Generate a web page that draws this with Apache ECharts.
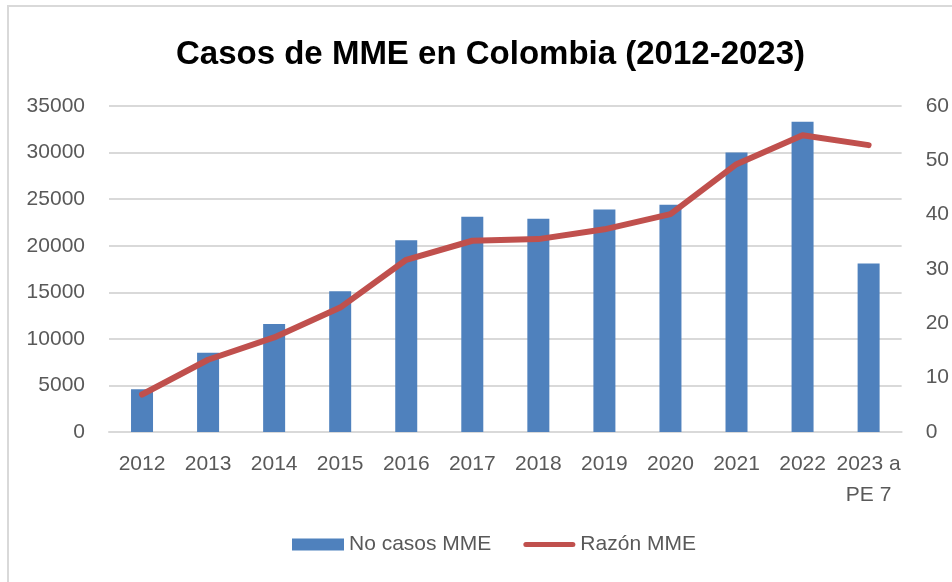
<!DOCTYPE html>
<html>
<head>
<meta charset="utf-8">
<title>Casos de MME en Colombia (2012-2023)</title>
<script src="https://cdn.jsdelivr.net/npm/echarts@6/dist/echarts.min.js"></script>
<style>
  html, body { margin: 0; padding: 0; background: #ffffff; }
  #chart { width: 952px; height: 582px; }
</style>
</head>
<body>
<div id="chart"></div>
<script>
// Categories (years; last one is partial up to epidemiological period 7)
var years = ['2012', '2013', '2014', '2015', '2016', '2017', '2018', '2019', '2020', '2021', '2022', '2023 a\nPE 7'];
// Number of extreme maternal morbidity cases (left axis)
var casosMME = [4600, 8500, 11600, 15100, 20600, 23100, 22900, 23900, 24400, 30000, 33300, 18100];
// MME ratio (right axis)
var razonMME = [6.9, 13.3, 17.4, 22.9, 31.7, 35.2, 35.5, 37.3, 40.1, 49.3, 54.6, 52.8];
// Axis ranges
var leftAxisMax = 35000, leftAxisStep = 5000;
var rightAxisMax = 60, rightAxisStep = 10;

var FONT = '"Liberation Sans", Arial, sans-serif';
var GREY = '#595959';

// Thick line swatch for the ratio legend entry (invisible moves keep a 52x12 box)
var lineIcon = 'path://M0,0 M52,12 M2.5,3.5 L49.5,3.5 A2.5,2.5 0 0 1 49.5,8.5 L2.5,8.5 A2.5,2.5 0 0 1 2.5,3.5 Z';

var chart = echarts.init(document.getElementById('chart'), null, { renderer: 'canvas' });

chart.setOption({
  backgroundColor: '#ffffff',
  animation: false,
  title: {
    text: 'Casos de MME en Colombia (2012-2023)',
    left: 176,
    top: 38,
    padding: 0,
    textStyle: { fontFamily: FONT, fontSize: 33, fontWeight: 'bold', color: '#000000' }
  },
  graphic: [{
    type: 'rect',
    shape: { x: 8, y: 6, width: 1200, height: 1200 },
    style: { fill: 'none', stroke: '#D9D9D9', lineWidth: 2 },
    silent: true,
    z: -10
  }],
  legend: {
    bottom: 22,
    left: 287,
    itemWidth: 52,
    itemHeight: 12,
    itemGap: 32,
    textStyle: { fontFamily: FONT, fontSize: 21, color: GREY },
    data: [
      { name: 'No casos MME', icon: 'rect' },
      { name: 'Razón MME', icon: lineIcon, itemStyle: { color: '#C0504D' } }
    ]
  },
  grid: { left: 109, right: 48, top: 106, bottom: 150, containLabel: false },
  xAxis: {
    type: 'category',
    data: years,
    axisTick: { show: false },
    axisLine: { lineStyle: { color: '#D9D9D9', width: 2 } },
    axisLabel: {
      interval: 0,
      margin: 17,
      fontFamily: FONT, fontSize: 21, color: GREY, lineHeight: 31
    }
  },
  yAxis: [{
    type: 'value',
    min: 0, max: leftAxisMax, interval: leftAxisStep,
    axisLine: { show: false },
    axisTick: { show: false },
    splitLine: { lineStyle: { color: '#D9D9D9', width: 2 } },
    axisLabel: {
      margin: 24, fontFamily: FONT, fontSize: 21, color: GREY,
      formatter: function (v) { return String(v); }
    }
  }, {
    type: 'value',
    min: 0, max: rightAxisMax, interval: rightAxisStep,
    axisLine: { show: false },
    axisTick: { show: false },
    splitLine: { show: false },
    axisLabel: {
      margin: 24, fontFamily: FONT, fontSize: 21, color: GREY,
      formatter: function (v) { return String(v); }
    }
  }],
  series: [{
    name: 'No casos MME',
    type: 'bar',
    yAxisIndex: 0,
    data: casosMME,
    barWidth: 22,
    itemStyle: { color: '#4F81BD' },
    z: 2
  }, {
    name: 'Razón MME',
    type: 'line',
    yAxisIndex: 1,
    data: razonMME,
    symbol: 'none',
    lineStyle: { color: '#C0504D', width: 6, cap: 'round', join: 'round' },
    itemStyle: { color: '#C0504D' },
    z: 3
  }]
});
</script>
</body>
</html>
